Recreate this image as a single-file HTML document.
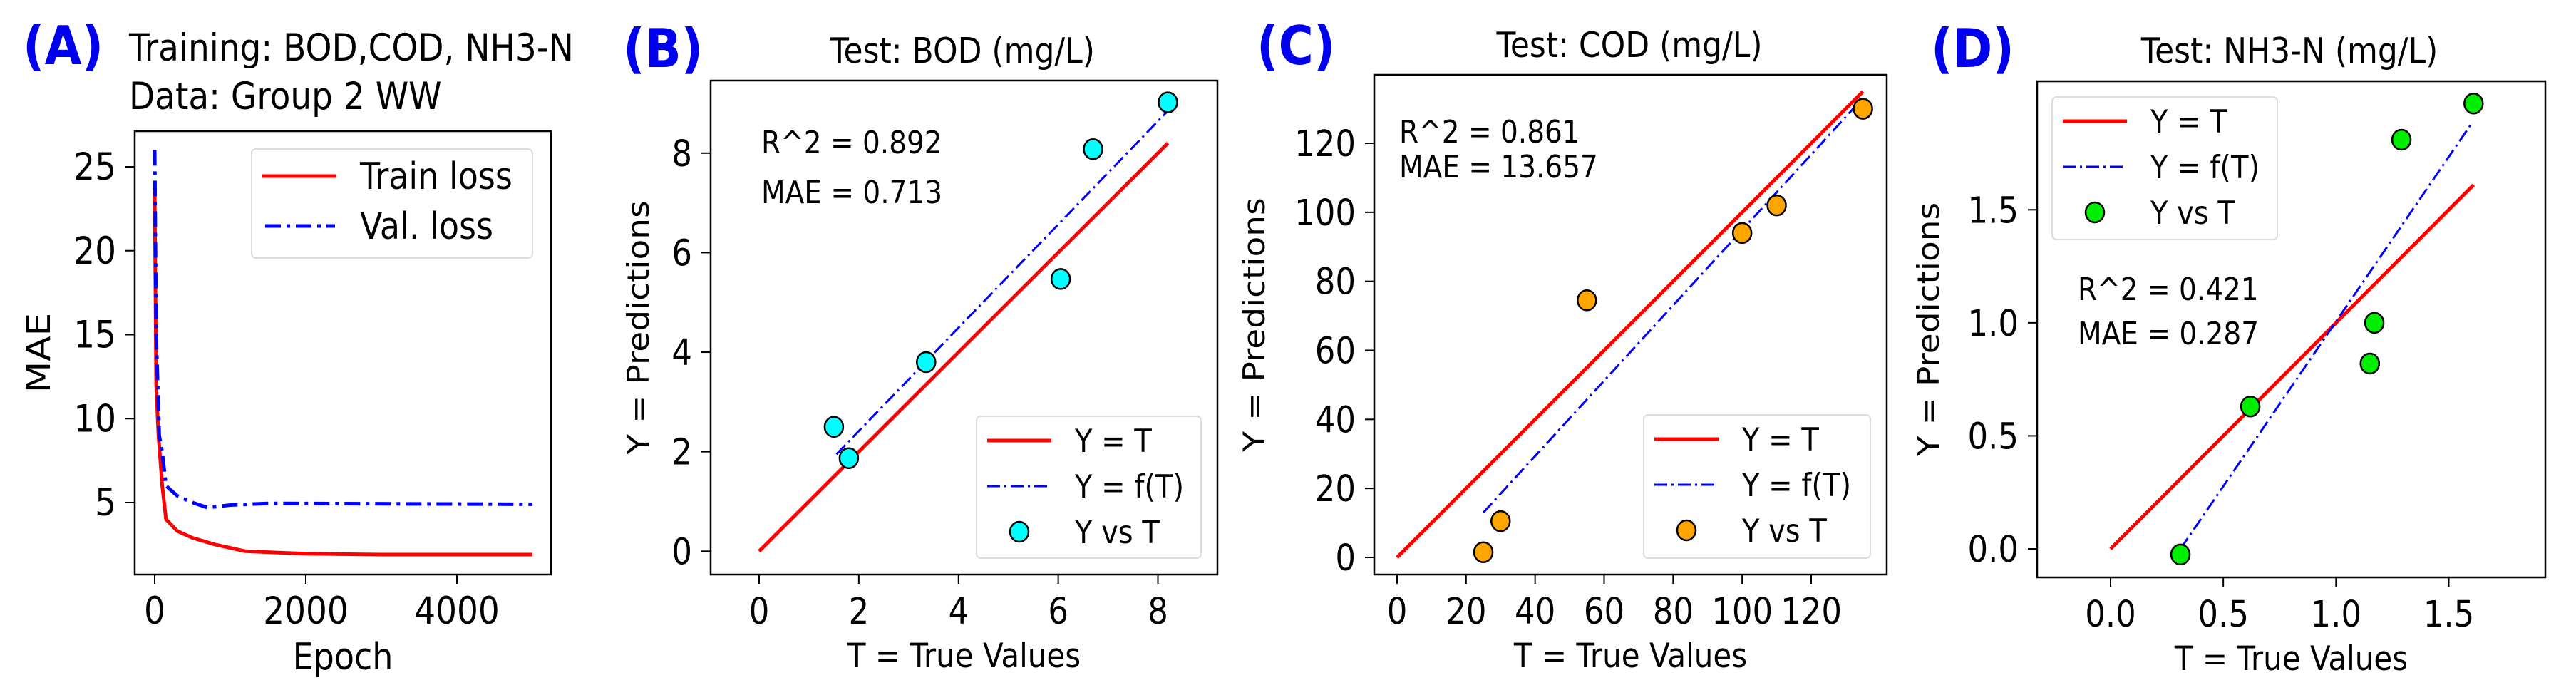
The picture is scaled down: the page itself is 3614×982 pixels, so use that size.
<!DOCTYPE html>
<html><head><meta charset="utf-8"><style>
html,body{margin:0;padding:0;background:#fff;}
svg{display:block;font-family:"DejaVu Sans","Liberation Sans",sans-serif;}
</style></head><body>
<svg id="fig" width="3614" height="982" viewBox="0 0 3614 982" xmlns="http://www.w3.org/2000/svg">
<rect width="3614" height="982" fill="#fff"/>
<text transform="translate(32 90) scale(1 1.12)" font-size="67" font-weight="bold" fill="#0000ee">(A)</text>
<text transform="translate(181 85) scale(1 1.12)" font-size="47">Training: BOD,COD, NH3-N</text>
<text transform="translate(181 153) scale(1 1.12)" font-size="47">Data: Group 2 WW</text>
<text transform="translate(874 94) scale(1 1.12)" font-size="67" font-weight="bold" fill="#0000ee">(B)</text>
<text transform="translate(1350 88) scale(1 1.12)" font-size="44" text-anchor="middle">Test: BOD (mg/L)</text>
<text transform="translate(1763 90) scale(1 1.12)" font-size="67" font-weight="bold" fill="#0000ee">(C)</text>
<text transform="translate(2286 80) scale(1 1.12)" font-size="44" text-anchor="middle">Test: COD (mg/L)</text>
<text transform="translate(2709 94) scale(1 1.12)" font-size="67" font-weight="bold" fill="#0000ee">(D)</text>
<text transform="translate(3212 88) scale(1 1.12)" font-size="44" text-anchor="middle">Test: NH3-N (mg/L)</text>
</svg>
<script>
// Panel A data
const epochsTrain = [0, 20, 50, 100, 150, 300, 500, 800, 1200, 2000, 3000, 5000];
const trainLoss = [23.5, 12, 9, 6, 4, 3.3, 2.9, 2.5, 2.1, 1.95, 1.9, 1.9];
const epochsVal = [0, 20, 60, 100, 150, 200, 300, 500, 700, 1000, 1500, 5000];
const valLoss = [26, 15, 9, 8, 6, 5.8, 5.4, 5.0, 4.7, 4.85, 4.95, 4.9];
const aXTicks = [0, 2000, 4000];
const aYTicks = [5, 10, 15, 20, 25];
// Panel B data
const bodTrue = [1.5, 1.8, 3.35, 6.05, 6.7, 8.2];
const bodPred = [2.5, 1.87, 3.8, 5.47, 8.08, 9.02];
const bodFitX = [1.55, 8.2];
const bodFitY = [1.95, 8.85];
const bXTicks = [0, 2, 4, 6, 8];
const bYTicks = [0, 2, 4, 6, 8];
// Panel C data
const codTrue = [25, 30, 55, 100, 110, 135];
const codPred = [1.5, 10.5, 74.5, 94, 102, 130];
const codFitX = [25, 134];
const codFitY = [13, 132];
const cXTicks = [0, 20, 40, 60, 80, 100, 120];
const cYTicks = [0, 20, 40, 60, 80, 100, 120];
// Panel D data
const nhTrue = [0.31, 0.62, 1.15, 1.17, 1.29, 1.61];
const nhPred = [-0.025, 0.63, 0.82, 1.0, 1.81, 1.97];
const nhFitX = [0.31, 1.6];
const nhFitY = [0.0, 1.88];
const dXTicks = [0.0, 0.5, 1.0, 1.5];
const dYTicks = [0.0, 0.5, 1.0, 1.5];

const NS = 'http://www.w3.org/2000/svg';
const svg = document.getElementById('fig');
const K = 1.12;
function mk(tag, attrs, parent) {
  const e = document.createElementNS(NS, tag);
  for (const k in attrs) e.setAttribute(k, attrs[k]);
  (parent || svg).appendChild(e);
  return e;
}
function txt(x, y, s, size, anchor, rot, parent) {
  const tr = rot ? 'translate(' + x + ' ' + y + ') rotate(-90) scale(' + K + ' 1)'
                 : 'translate(' + x + ' ' + y + ') scale(1 ' + K + ')';
  const t = mk('text', {transform: tr, 'font-size': size, 'text-anchor': anchor || 'start'}, parent);
  t.textContent = s;
  return t;
}
function linScale(d0, d1, r0, r1) { return v => r0 + (v - d0) * (r1 - r0) / (d1 - d0); }

function axes(p) {
  const fs = p.tickFs || 45;
  const g = mk('g', {});
  
  
  p.xt.forEach(v => {
    const x = p.sx(v);
    const t = mk('line', {x1: x, x2: x, y1: p.b, y2: p.b + 13, stroke: '#000', 'stroke-width': 2}, g);
    
    
    const l = txt(x, p.b + 69, p.xfmt(v), fs, 'middle', false, g);
    
    
  });
  p.yt.forEach(v => {
    const y = p.sy(v);
    const t = mk('line', {x1: p.l - 13, x2: p.l, y1: y, y2: y, stroke: '#000', 'stroke-width': 2}, g);
    
    
    const l = txt(p.l - 26, y + 18, p.yfmt(v), fs, 'end', false, g);
    
    
  });
  const xl = txt((p.l + p.r) / 2, p.xlY, p.xlabel, p.labelFs || 42, 'middle', false, g);
  
  
  const yl = txt(p.ylX, (p.t + p.b) / 2, p.ylabel, p.labelFs || 42, 'middle', true, g);
  
  
}
function frame(p) {
  const f = mk('rect', {x: p.l, y: p.t, width: p.r - p.l, height: p.b - p.t, fill: 'none', stroke: '#000', 'stroke-width': 2.5});
  
  
}
function poly(xs, ys, p, attrs, name) {
  const pts = xs.map((x, i) => p.sx(x).toFixed(1) + ',' + p.sy(ys[i]).toFixed(1)).join(' ');
  const e = mk('polyline', Object.assign({points: pts, fill: 'none'}, attrs));
  
  
  return e;
}
const RED = {stroke: '#ff0000', 'stroke-width': 5};
const BLUE = {stroke: '#0000ff', 'stroke-width': 3, 'stroke-dasharray': '18 6 3 6'};

function legendBox(x, y, w, h, name) {
  const r = mk('rect', {x: x, y: y, width: w, height: h, rx: 6, fill: '#fff', 'fill-opacity': 0.8, stroke: '#ddd', 'stroke-width': 2});
  
  
}
function scatterPanel(p, tx, py, fx, fy, color, lg, stats) {
  axes(p);
  const mx = Math.max(...tx);
  poly([0, mx], [0, mx], p, RED, p.name + '-identity-line');
  poly(fx, fy, p, BLUE, p.name + '-fit-line');
  tx.forEach((v, i) => {
    const c = mk('ellipse', {cx: p.sx(v), cy: p.sy(py[i]), rx: 13, ry: 14, fill: color, stroke: '#000', 'stroke-width': 2.5});
    
    
  });
  frame(p);
  const r2 = txt(stats.x, stats.y1, stats.r2, 39);
  
  
  const mae = txt(stats.x, stats.y2, stats.mae, 39);
  
  
  legendBox(lg.x, lg.y, lg.w, lg.h, p.name + '-legend');
  const ly = [lg.y + 34, lg.y + 98, lg.y + 162];
  const l1 = mk('line', {x1: lg.x + 15, x2: lg.x + 105, y1: ly[0], y2: ly[0], stroke: '#ff0000', 'stroke-width': 5});
  
  
  const l2 = mk('line', {x1: lg.x + 15, x2: lg.x + 105, y1: ly[1], y2: ly[1], stroke: '#0000ff', 'stroke-width': 3, 'stroke-dasharray': '18 6 3 6'});
  
  
  const c = mk('ellipse', {cx: lg.x + 60, cy: ly[2], rx: 13, ry: 14, fill: color, stroke: '#000', 'stroke-width': 2.5});
  
  
  const e1 = txt(lg.x + 138, ly[0] + 16, 'Y = T', 40);
  
  
  const e2 = txt(lg.x + 138, ly[1] + 16, 'Y = f(T)', 40);
  
  
  const e3 = txt(lg.x + 138, ly[2] + 16, 'Y vs T', 40);
  
  
}

// Panel A
const pA = {name: 'panel-a', l: 189, r: 773, t: 184, b: 806,
  sx: linScale(0, 2000, 217, 429), sy: linScale(5, 25, 705, 234),
  xt: aXTicks, yt: aYTicks, xfmt: v => String(v), yfmt: v => String(v),
  xlabel: 'Epoch', ylabel: 'MAE', xlY: 939, ylX: 70, tickFs: 47, labelFs: 46};
axes(pA);
poly(epochsTrain, trainLoss, pA, RED, 'train-loss-line');
poly(epochsVal, valLoss, pA, {stroke: '#0000ff', 'stroke-width': 5, 'stroke-dasharray': '22 8 5 8'}, 'val-loss-line');
frame(pA);
legendBox(353, 209, 394, 153, 'panel-a-legend');
const la1 = mk('line', {x1: 368, x2: 472, y1: 247, y2: 247, stroke: '#ff0000', 'stroke-width': 5});


const la2 = mk('line', {x1: 372, x2: 470, y1: 317, y2: 317, stroke: '#0000ff', 'stroke-width': 5, 'stroke-dasharray': '22 8 5 8'});


const lt1 = txt(505, 265, 'Train loss', 46);


const lt2 = txt(505, 335, 'Val. loss', 46);



// Panel B
scatterPanel({name: 'panel-b', l: 997, r: 1708, t: 113, b: 806,
  sx: linScale(0, 8, 1065, 1624.5), sy: linScale(0, 8, 773.3, 214.8),
  xt: bXTicks, yt: bYTicks, xfmt: v => String(v), yfmt: v => String(v),
  xlabel: 'T = True Values', ylabel: 'Y = Predictions', xlY: 936, ylX: 910},
  bodTrue, bodPred, bodFitX, bodFitY, '#00ffff',
  {x: 1370, y: 584, w: 315, h: 199},
  {x: 1068, y1: 215, y2: 285, r2: 'R^2 = 0.892', mae: 'MAE = 0.713'});

// Panel C
scatterPanel({name: 'panel-c', l: 1928, r: 2647, t: 105, b: 806,
  sx: linScale(0, 120, 1960, 2541), sy: linScale(0, 120, 782, 201),
  xt: cXTicks, yt: cYTicks, xfmt: v => String(v), yfmt: v => String(v),
  xlabel: 'T = True Values', ylabel: 'Y = Predictions', xlY: 936, ylX: 1774},
  codTrue, codPred, codFitX, codFitY, '#ffa500',
  {x: 2306, y: 582, w: 318, h: 201},
  {x: 1963, y1: 200, y2: 249, r2: 'R^2 = 0.861', mae: 'MAE = 13.657'});

// Panel D
scatterPanel({name: 'panel-d', l: 2858, r: 3571, t: 114, b: 810,
  sx: linScale(0, 1.5, 2961, 3435.5), sy: linScale(0, 1.5, 770, 294.3),
  xt: dXTicks, yt: dYTicks, xfmt: v => v.toFixed(1), yfmt: v => v.toFixed(1),
  xlabel: 'T = True Values', ylabel: 'Y = Predictions', xlY: 940, ylX: 2720},
  nhTrue, nhPred, nhFitX, nhFitY, '#00ee00',
  {x: 2879, y: 136, w: 316, h: 200},
  {x: 2915, y1: 421, y2: 483, r2: 'R^2 = 0.421', mae: 'MAE = 0.287'});
</script>
</body></html>
